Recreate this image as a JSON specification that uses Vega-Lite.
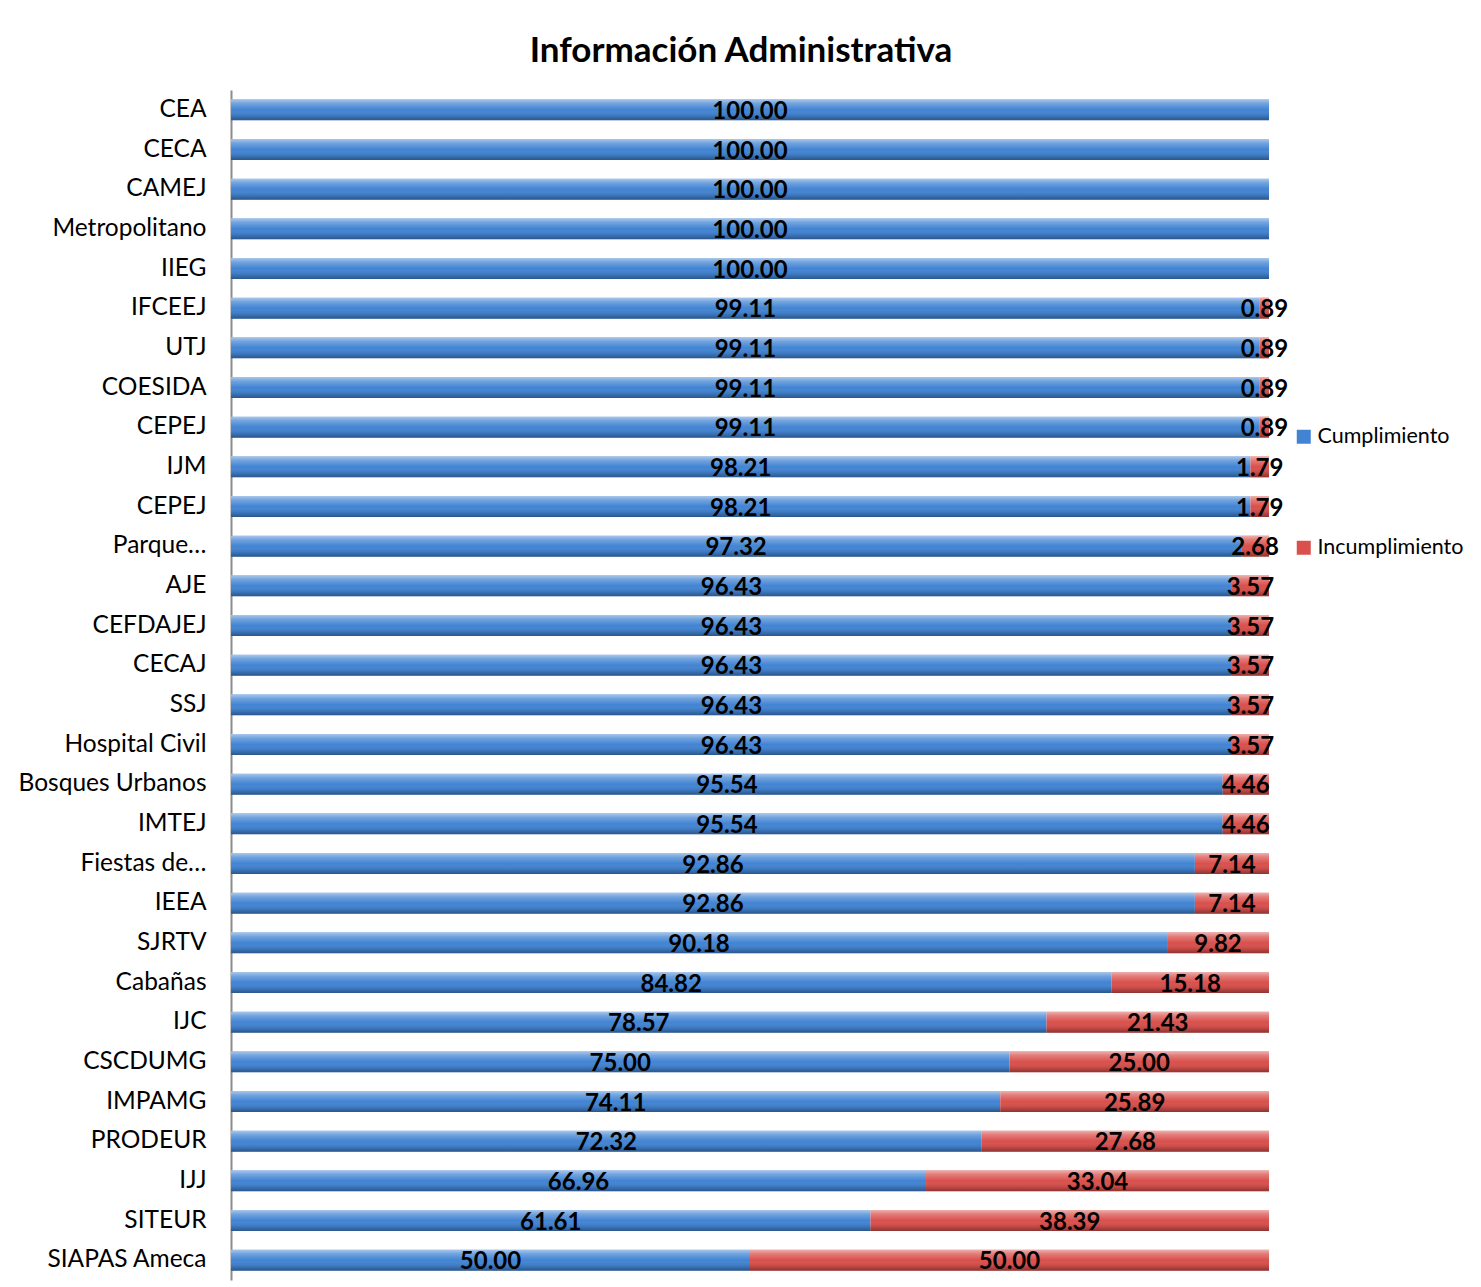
{
  "$schema": "https://vega.github.io/schema/vega-lite/v6.json",
  "width": 1038,
  "height": 1190,
  "autosize": {"type": "none"},
  "padding": {"left": 231, "top": 90, "right": 212, "bottom": 7},
  "background": "white",
  "config": {"view": {"stroke": null}},
  "title": {"text": "Información Administrativa", "font": "Lato", "fontSize": 35, "fontWeight": "bold", "color": "#000000", "anchor": "middle", "offset": 21, "dx": -9},
  "data": {"values": [
    {"n": "CEA", "s": "Cumplimiento", "v": 100.00}, {"n": "CEA", "s": "Incumplimiento", "v": 0},
    {"n": "CECA", "s": "Cumplimiento", "v": 100.00}, {"n": "CECA", "s": "Incumplimiento", "v": 0},
    {"n": "CAMEJ", "s": "Cumplimiento", "v": 100.00}, {"n": "CAMEJ", "s": "Incumplimiento", "v": 0},
    {"n": "Metropolitano", "s": "Cumplimiento", "v": 100.00}, {"n": "Metropolitano", "s": "Incumplimiento", "v": 0},
    {"n": "IIEG", "s": "Cumplimiento", "v": 100.00}, {"n": "IIEG", "s": "Incumplimiento", "v": 0},
    {"n": "IFCEEJ", "s": "Cumplimiento", "v": 99.11}, {"n": "IFCEEJ", "s": "Incumplimiento", "v": 0.89},
    {"n": "UTJ", "s": "Cumplimiento", "v": 99.11}, {"n": "UTJ", "s": "Incumplimiento", "v": 0.89},
    {"n": "COESIDA", "s": "Cumplimiento", "v": 99.11}, {"n": "COESIDA", "s": "Incumplimiento", "v": 0.89},
    {"n": "CEPEJ", "s": "Cumplimiento", "v": 99.11}, {"n": "CEPEJ", "s": "Incumplimiento", "v": 0.89},
    {"n": "IJM", "s": "Cumplimiento", "v": 98.21}, {"n": "IJM", "s": "Incumplimiento", "v": 1.79},
    {"n": "CEPEJ ", "s": "Cumplimiento", "v": 98.21}, {"n": "CEPEJ ", "s": "Incumplimiento", "v": 1.79},
    {"n": "Parque…", "s": "Cumplimiento", "v": 97.32}, {"n": "Parque…", "s": "Incumplimiento", "v": 2.68},
    {"n": "AJE", "s": "Cumplimiento", "v": 96.43}, {"n": "AJE", "s": "Incumplimiento", "v": 3.57},
    {"n": "CEFDAJEJ", "s": "Cumplimiento", "v": 96.43}, {"n": "CEFDAJEJ", "s": "Incumplimiento", "v": 3.57},
    {"n": "CECAJ", "s": "Cumplimiento", "v": 96.43}, {"n": "CECAJ", "s": "Incumplimiento", "v": 3.57},
    {"n": "SSJ", "s": "Cumplimiento", "v": 96.43}, {"n": "SSJ", "s": "Incumplimiento", "v": 3.57},
    {"n": "Hospital Civil", "s": "Cumplimiento", "v": 96.43}, {"n": "Hospital Civil", "s": "Incumplimiento", "v": 3.57},
    {"n": "Bosques Urbanos", "s": "Cumplimiento", "v": 95.54}, {"n": "Bosques Urbanos", "s": "Incumplimiento", "v": 4.46},
    {"n": "IMTEJ", "s": "Cumplimiento", "v": 95.54}, {"n": "IMTEJ", "s": "Incumplimiento", "v": 4.46},
    {"n": "Fiestas de…", "s": "Cumplimiento", "v": 92.86}, {"n": "Fiestas de…", "s": "Incumplimiento", "v": 7.14},
    {"n": "IEEA", "s": "Cumplimiento", "v": 92.86}, {"n": "IEEA", "s": "Incumplimiento", "v": 7.14},
    {"n": "SJRTV", "s": "Cumplimiento", "v": 90.18}, {"n": "SJRTV", "s": "Incumplimiento", "v": 9.82},
    {"n": "Cabañas", "s": "Cumplimiento", "v": 84.82}, {"n": "Cabañas", "s": "Incumplimiento", "v": 15.18},
    {"n": "IJC", "s": "Cumplimiento", "v": 78.57}, {"n": "IJC", "s": "Incumplimiento", "v": 21.43},
    {"n": "CSCDUMG", "s": "Cumplimiento", "v": 75.00}, {"n": "CSCDUMG", "s": "Incumplimiento", "v": 25.00},
    {"n": "IMPAMG", "s": "Cumplimiento", "v": 74.11}, {"n": "IMPAMG", "s": "Incumplimiento", "v": 25.89},
    {"n": "PRODEUR", "s": "Cumplimiento", "v": 72.32}, {"n": "PRODEUR", "s": "Incumplimiento", "v": 27.68},
    {"n": "IJJ", "s": "Cumplimiento", "v": 66.96}, {"n": "IJJ", "s": "Incumplimiento", "v": 33.04},
    {"n": "SITEUR", "s": "Cumplimiento", "v": 61.61}, {"n": "SITEUR", "s": "Incumplimiento", "v": 38.39},
    {"n": "SIAPAS Ameca", "s": "Cumplimiento", "v": 50.00}, {"n": "SIAPAS Ameca", "s": "Incumplimiento", "v": 50.00}
  ]},
  "encoding": {
    "y": {
      "field": "n", "type": "nominal", "sort": null,
      "scale": {"paddingInner": 0.47, "paddingOuter": 0.235},
      "axis": {"title": null, "ticks": false, "domainColor": "#8c8c8c", "domainWidth": 2, "labelFont": "Lato", "labelFontSize": 24.5, "labelColor": "#000000", "labelPadding": 25, "labelLimit": 300}
    }
  },
  "layer": [
    {
      "mark": {"type": "bar", "height": 21},
      "encoding": {
        "x": {"field": "v", "type": "quantitative", "stack": "zero", "scale": {"domain": [0, 100], "nice": false}, "axis": null},
        "color": {
          "field": "s", "type": "nominal",
          "scale": {"domain": ["Cumplimiento", "Incumplimiento"], "range": ["#4284D3", "#D9504C"]},
          "legend": {"title": null, "orient": "none", "legendX": 1062, "legendY": 336, "symbolType": "square", "symbolSize": 196, "symbolStrokeWidth": 0, "labelFont": "Lato", "labelFontSize": 21.5, "labelColor": "#000000", "labelOffset": 3, "rowPadding": 88}
        },
        "order": {"field": "s", "type": "ordinal", "sort": "ascending"}
      }
    },
    {
      "mark": {"type": "bar", "height": 21, "fill": {"gradient": "linear", "x1": 0, "y1": 0, "x2": 0, "y2": 1, "stops": [
        {"offset": 0, "color": "rgba(255,255,255,0.55)"},
        {"offset": 0.2, "color": "rgba(255,255,255,0.25)"},
        {"offset": 0.5, "color": "rgba(255,255,255,0)"},
        {"offset": 0.8, "color": "rgba(0,0,0,0.12)"},
        {"offset": 1, "color": "rgba(0,0,0,0.35)"}
      ]}},
      "encoding": {
        "x": {"field": "v", "type": "quantitative", "stack": "zero"},
        "detail": {"field": "s"},
        "order": {"field": "s", "type": "ordinal", "sort": "ascending"}
      }
    },
    {
      "transform": [{"filter": "datum.v > 0"}],
      "mark": {"type": "text", "font": "Lato", "fontSize": 24, "fontWeight": "bold", "color": "#000000", "baseline": "middle", "align": "center", "dy": 2},
      "encoding": {
        "x": {"field": "v", "type": "quantitative", "stack": "zero", "bandPosition": 0.5},
        "detail": {"field": "s"},
        "order": {"field": "s", "type": "ordinal", "sort": "ascending"},
        "text": {"field": "v", "type": "quantitative", "format": ".2f"}
      }
    }
  ]
}
